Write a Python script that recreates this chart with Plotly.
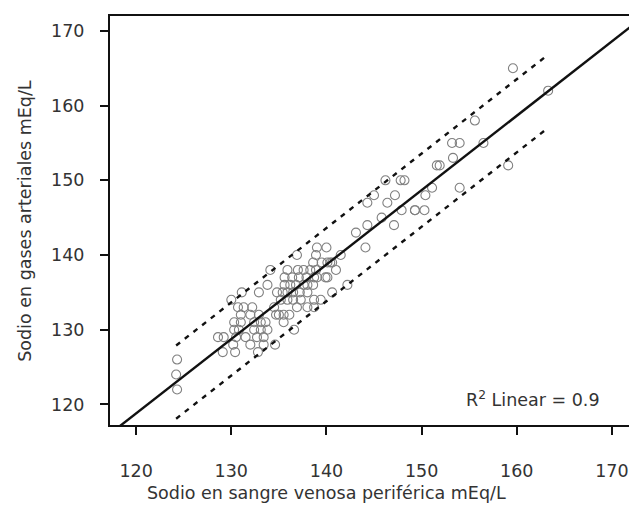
import plotly.graph_objects as go

# venous (x) and arterial (y) sodium, mEq/L
venoso = [
    124.3, 124.2, 124.3,
    129.1, 130.4, 132.8,
    130.2, 132.0, 133.4, 134.6,
    128.6, 129.2, 130.5, 131.5, 132.7, 133.4,
    130.3, 130.8, 132.4, 133.1, 133.8, 136.6,
    130.3, 131.0, 132.4, 133.1, 133.6, 135.5,
    131.0, 132.0, 132.9, 134.7, 135.0, 135.5, 136.1,
    130.7, 131.3, 132.2, 134.5, 136.9, 138.0, 138.7,
    130.0, 135.2, 135.9, 136.5, 137.3, 138.7, 139.4,
    131.1, 132.9, 134.8, 135.4, 135.9, 136.5, 138.0, 140.6, 137.2,
    133.8, 135.6, 136.2, 136.8, 137.6, 138.0, 138.6,
    135.6, 136.4, 137.1, 137.9, 138.7, 140.1, 139.0, 139.9,
    134.1, 135.9, 137.0, 137.6, 138.3, 138.9, 141.0,
    138.6, 139.5, 140.4, 140.1, 140.6,
    136.9, 138.9, 141.5,
    139.0, 140.0, 144.1,
    142.2,
    143.1,
    144.3, 147.1,
    145.8,
    147.9, 149.3, 150.3, 149.3,
    144.3, 146.4,
    145.0, 147.2, 150.4,
    151.1, 154.0,
    146.2, 147.8, 148.2,
    151.9, 159.1, 151.6,
    153.3,
    153.2, 154.0, 156.5,
    155.6,
    163.3,
    159.6,
]
arterial = [
    122, 124, 126,
    127, 127, 127,
    128, 128, 128, 128,
    129, 129, 129, 129, 129, 129,
    130, 130, 130, 130, 130, 130,
    131, 131, 131, 131, 131, 131,
    132, 132, 132, 132, 132, 132, 132,
    133, 133, 133, 133, 133, 133, 133,
    134, 134, 134, 134, 134, 134, 134,
    135, 135, 135, 135, 135, 135, 135, 135, 135,
    136, 136, 136, 136, 136, 136, 136,
    137, 137, 137, 137, 137, 137, 137, 137,
    138, 138, 138, 138, 138, 138, 138,
    139, 139, 139, 139, 139,
    140, 140, 140,
    141, 141, 141,
    136,
    143,
    144, 144,
    145,
    146, 146, 146, 146,
    147, 147,
    148, 148, 148,
    149, 149,
    150, 150, 150,
    152, 152, 152,
    153,
    155, 155, 155,
    158,
    162,
    165,
]

# fit
pendiente = 0.996
intercepto = -0.72
banda = 4.9
banda_x = [124.2, 163.1]
linea_x = [117.0, 173.5]

tick_vals = [120, 130, 140, 150, 160, 170]
tick_text = ["120", "130", "140", "150", "160", "170"]

FONT = "DejaVu Sans"
TXT = "#333333"
FS = 17.5

fit_y = [pendiente * v + intercepto for v in linea_x]
up_y = [pendiente * v + intercepto + banda for v in banda_x]
lo_y = [pendiente * v + intercepto - banda for v in banda_x]

fig = go.Figure()
fig.add_trace(go.Scatter(
    x=venoso, y=arterial, mode="markers",
    marker=dict(symbol="circle-open", size=9, color="#808080",
                line=dict(width=1.1, color="#808080")),
    showlegend=False, hoverinfo="x+y"))
fig.add_trace(go.Scatter(x=banda_x, y=up_y, mode="lines",
                         line=dict(color="#111111", width=2.4, dash="5px,6px"),
                         showlegend=False))
fig.add_trace(go.Scatter(x=banda_x, y=lo_y, mode="lines",
                         line=dict(color="#111111", width=2.4, dash="5px,6px"),
                         showlegend=False))
fig.add_trace(go.Scatter(x=linea_x, y=fit_y, mode="lines",
                         line=dict(color="#111111", width=2.4),
                         showlegend=False))

fig.add_annotation(x=0.93, y=0.063, xref="paper", yref="paper",
                   xanchor="right", yanchor="middle", showarrow=False,
                   text="R<sup>2</sup> Linear = 0.9",
                   font=dict(family=FONT, size=FS, color=TXT))

# axis titles
fig.add_annotation(x=0.4087, y=-0.166, xref="paper", yref="paper",
                   xanchor="center", yanchor="middle", showarrow=False,
                   text="Sodio en sangre venosa periférica mEq/L",
                   font=dict(family=FONT, size=FS, color=TXT))
fig.add_annotation(x=-0.162, y=0.5, xref="paper", yref="paper",
                   xanchor="center", yanchor="middle", showarrow=False,
                   textangle=-90,
                   text="Sodio en gases arteriales mEq/L",
                   font=dict(family=FONT, size=FS, color=TXT))

axis_common = dict(
    showline=True, linecolor="#111111", linewidth=2, mirror=True,
    ticks="outside", ticklen=8, tickwidth=2, tickcolor="#111111",
    showgrid=False, zeroline=False,
    tickvals=tick_vals, ticktext=tick_text,
    tickfont=dict(family=FONT, size=FS, color=TXT),
)
fig.update_xaxes(**axis_common, range=[117.25, 172.85], ticklabelstandoff=21)
fig.update_yaxes(**axis_common, range=[117.24, 172.0], ticklabelstandoff=12)

fig.update_layout(
    width=637, height=520,
    margin=dict(l=102, r=4, t=8, b=103),
    paper_bgcolor="white", plot_bgcolor="white",
    font=dict(family=FONT, color=TXT),
)

fig.write_html("out.html")
